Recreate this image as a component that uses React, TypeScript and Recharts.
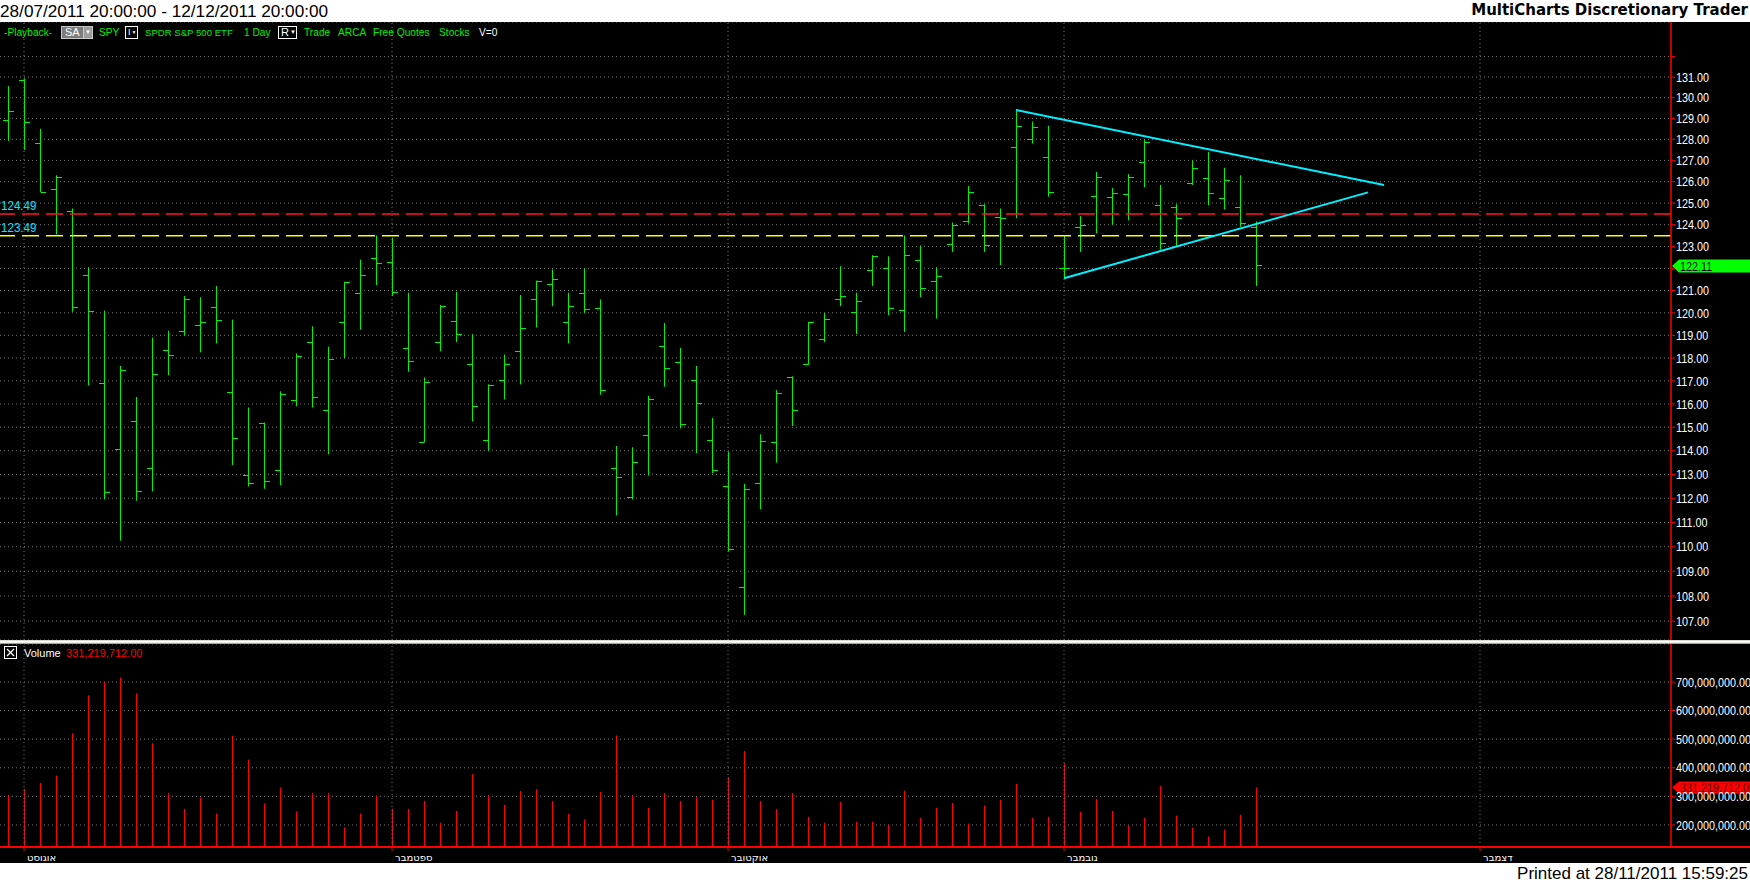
import React from 'react';
import { ComposedChart, Bar, Line, XAxis, YAxis, CartesianGrid, ReferenceLine } from 'recharts';

// ---------- data ----------
const tradingDates = [
  '29/07/2011',
  '01/08/2011', '02/08/2011', '03/08/2011', '04/08/2011', '05/08/2011', '08/08/2011', '09/08/2011', '10/08/2011',
  '11/08/2011', '12/08/2011', '15/08/2011', '16/08/2011', '17/08/2011', '18/08/2011', '19/08/2011', '22/08/2011',
  '23/08/2011', '24/08/2011', '25/08/2011', '26/08/2011', '29/08/2011', '30/08/2011', '31/08/2011',
  '01/09/2011', '02/09/2011', '06/09/2011', '07/09/2011', '08/09/2011', '09/09/2011', '12/09/2011', '13/09/2011',
  '14/09/2011', '15/09/2011', '16/09/2011', '19/09/2011', '20/09/2011', '21/09/2011', '22/09/2011', '23/09/2011',
  '26/09/2011', '27/09/2011', '28/09/2011', '29/09/2011', '30/09/2011',
  '03/10/2011', '04/10/2011', '05/10/2011', '06/10/2011', '07/10/2011', '10/10/2011', '11/10/2011', '12/10/2011',
  '13/10/2011', '14/10/2011', '17/10/2011', '18/10/2011', '19/10/2011', '20/10/2011', '21/10/2011', '24/10/2011',
  '25/10/2011', '26/10/2011', '27/10/2011', '28/10/2011', '31/10/2011',
  '01/11/2011', '02/11/2011', '03/11/2011', '04/11/2011', '07/11/2011', '08/11/2011', '09/11/2011', '10/11/2011',
  '11/11/2011', '14/11/2011', '15/11/2011', '16/11/2011', '17/11/2011',
];
const futureDates = [
  '18/11/2011', '19/11/2011', '20/11/2011', '21/11/2011', '22/11/2011', '23/11/2011', '24/11/2011', '25/11/2011',
  '26/11/2011', '27/11/2011', '28/11/2011', '29/11/2011', '30/11/2011', '01/12/2011', '02/12/2011', '03/12/2011',
  '04/12/2011', '05/12/2011', '06/12/2011', '07/12/2011', '08/12/2011', '09/12/2011', '10/12/2011', '11/12/2011',
  '12/12/2011',
];

const opens = [
  128.9, 130.84, 127.8, 125.65, 124.6, 121.7, 116.9, 114.05, 115.25, 113.25,
  118.35, 119.15, 119.45, 120.25, 116.5, 112.95, 115.15, 113.15, 116.15, 118.7,
  115.7, 119.55, 120.85, 122.45, 122.25, 118.4, 114.35, 118.7, 119.6, 117.7,
  114.45, 117.0, 118.3, 120.6, 121.25, 119.55, 120.85, 120.2, 113.25, 112.05,
  114.65, 118.5, 117.8, 117.0, 114.45, 112.5, 108.35, 112.6, 114.35, 117.15,
  117.7, 118.8, 120.6, 120.0, 121.9, 122.0, 120.1, 122.35, 121.4, 123.1,
  124.15, 124.9, 124.35, 127.6, 128.0, 127.15, 122.0, 123.85, 125.3, 125.25,
  125.4, 126.9, 124.9, 124.8, 125.9, 126.15, 125.2, 124.8, 123.85,
];
const highs = [
  130.56, 130.94, 128.5, 126.3, 124.75, 122.05, 120.1, 117.65, 116.3, 118.9,
  119.2, 120.75, 120.7, 121.2, 119.7, 115.85, 115.2, 116.55, 118.2, 119.4,
  118.5, 121.4, 122.4, 123.5, 123.4, 120.9, 117.15, 120.35, 120.95, 119.05,
  116.85, 118.15, 120.8, 121.45, 121.95, 120.9, 122.0, 120.6, 114.2, 114.15,
  116.35, 119.55, 118.45, 117.65, 115.4, 113.95, 112.6, 114.7, 116.6, 117.2,
  119.6, 120.0, 122.1, 120.9, 122.6, 122.55, 123.5, 123.05, 122.05, 124.1,
  125.8, 124.95, 124.75, 129.4, 128.85, 128.65, 123.5, 124.4, 126.45, 125.7,
  126.35, 128.0, 125.85, 124.95, 127.0, 127.4, 126.65, 126.3, 124.15,
];
const lows = [
  127.93, 127.5, 125.5, 123.55, 120.05, 116.8, 111.96, 110.25, 111.9, 112.3,
  117.25, 119.0, 118.25, 118.65, 113.4, 112.5, 112.4, 112.55, 115.9, 115.85,
  113.85, 118.0, 119.25, 121.25, 120.75, 117.4, 114.35, 118.3, 118.7, 115.25,
  114.0, 116.2, 116.85, 119.35, 120.3, 118.65, 120.0, 116.4, 111.3, 111.95,
  112.95, 116.75, 114.95, 113.9, 113.05, 109.8, 107.25, 111.55, 113.5, 115.05,
  117.7, 118.7, 120.3, 119.05, 121.2, 119.9, 119.15, 120.7, 119.75, 122.75,
  124.05, 122.75, 122.15, 124.3, 127.8, 125.3, 121.55, 122.75, 123.6, 124.0,
  124.2, 125.75, 122.85, 123.0, 125.85, 124.9, 124.7, 123.9, 121.2,
];
const closes = [
  129.34, 128.8, 125.5, 126.2, 120.25, 120.05, 112.25, 117.45, 112.3, 117.3,
  118.1, 120.6, 119.55, 119.65, 114.5, 112.6, 112.7, 116.4, 118.05, 116.3,
  117.95, 121.35, 121.7, 122.2, 120.9, 117.85, 116.95, 120.3, 119.05, 115.9,
  116.8, 117.7, 119.3, 121.4, 121.5, 120.3, 120.15, 116.6, 112.85, 113.5,
  116.2, 117.55, 115.1, 116.0, 113.15, 109.9, 112.35, 114.4, 116.45, 115.7,
  119.55, 119.7, 120.75, 120.5, 122.55, 120.2, 122.6, 121.1, 121.65, 123.95,
  125.5, 123.05, 124.3, 128.6, 128.55, 125.5, 122.0, 123.95, 126.2, 125.45,
  126.2, 127.85, 123.15, 124.3, 126.6, 125.45, 126.05, 124.05, 122.11,
];
// volume in millions of shares
const volumesM = [
  305.6, 326.5, 347.3, 372.9, 521.3, 653.6, 702.3, 716.2, 660.6, 486.5,
  312.5, 256.8, 296.3, 240.6, 512.1, 428.5, 275.4, 331.1, 247.6, 312.5,
  312.5, 191.9, 240.6, 303.2, 256.8, 256.8, 284.7, 208.1, 249.7, 378.0,
  305.2, 270.5, 319.1, 326.0, 284.4, 239.3, 219.7, 315.6, 513.3, 305.2,
  260.1, 312.1, 284.4, 298.3, 289.0, 367.6, 459.0, 284.4, 256.6, 312.1,
  228.9, 208.1, 280.9, 211.6, 211.6, 201.2, 320.2, 225.4, 260.1, 277.5,
  204.6, 268.2, 289.0, 343.4, 225.4, 228.9, 416.2, 246.2, 291.3, 249.7,
  197.7, 225.4, 336.4, 232.4, 190.8, 159.5, 183.8, 235.8, 331.219712,
];

const priceTicks = [107, 108, 109, 110, 111, 112, 113, 114, 115, 116, 117, 118, 119, 120, 121, 122, 123, 124, 125, 126, 127, 128, 129, 130, 131, 132];
const priceLabelTicks = [107, 108, 109, 110, 111, 112, 113, 114, 115, 116, 117, 118, 119, 120, 121, 122, 123, 124, 125, 126, 127, 128, 129, 130, 131];
const priceMinorTicks = [106.5, 107.5, 108.5, 109.5, 110.5, 111.5, 112.5, 113.5, 114.5, 115.5, 116.5, 117.5, 118.5, 119.5, 120.5, 121.5, 122.5, 123.5, 124.5, 125.5, 126.5, 127.5, 128.5, 129.5, 130.5, 131.5];
const volumeTicks = [200e6, 300e6, 400e6, 500e6, 600e6, 700e6];
const volumeMinorTicks = [150e6, 250e6, 350e6, 450e6, 550e6, 650e6, 750e6];
const monthTicks = ['01/08/2011', '01/09/2011', '03/10/2011', '01/11/2011', '01/12/2011'];
const monthLabels = ['אוגוסט', 'ספטמבר', 'אוקטובר', 'נובמבר', 'דצמבר'];

const levelValues = [124.49, 123.49];
const levelColors = ['#ff1a1a', '#ffff00'];
const upperTrend = [{ date: '27/10/2011', price: 129.4 }, { date: '25/11/2011', price: 125.84 }];
const lowerTrend = [{ date: '01/11/2011', price: 121.55 }, { date: '24/11/2011', price: 125.5 }];
const lastPrice = 122.11;
const lastVolume = 331219712;

const priceDomain = [106.25, 133.71];
const volumeDomain = [123e6, 833e6];

// ---------- build rows ----------
const allDates = [...tradingDates, ...futureDates];
const rows = allDates.map((d, i) => {
  const has = i < opens.length;
  return {
    date: d,
    range: has ? [lows[i], highs[i]] : null,
    open: has ? opens[i] : null,
    close: has ? closes[i] : null,
    volume: has ? volumesM[i] * 1e6 : null,
  };
});

// ---------- style ----------
const GREEN = '#00f400';
const RED = '#ff0000';
const CYAN = '#00e8ff';
const GRID = '#7a7a7a';
const FONT = "'Liberation Sans', Arial, sans-serif";
const SX = 0.83; // horizontal squeeze for the narrow axis font

const fmtMoney = (v: number) =>
  v.toLocaleString('en-US', { minimumFractionDigits: 2, maximumFractionDigits: 2 });

// ---------- shapes ----------
const HLShape = (props: any) => {
  const { x, y, width, height } = props;
  if (x == null || y == null || height == null || isNaN(height) || isNaN(y)) return <g />;
  const cx = Math.round(x + width / 2 - 0.5);
  return <rect x={cx} y={y} width={1} height={Math.max(height, 1)} fill={GREEN} />;
};

const VolShape = (props: any) => {
  const { x, y, width, height } = props;
  if (x == null || y == null || height == null || isNaN(height) || isNaN(y)) return <g />;
  const cx = Math.round(x + width / 2 - 0.5);
  return <rect x={cx} y={y} width={1} height={Math.max(height, 1)} fill={RED} />;
};

const renderOpen = (props: any) => {
  const { cx, cy, index } = props;
  if (cx == null || cy == null || isNaN(cy)) return <g key={`o${index}`} />;
  const xr = Math.round(cx - 0.5);
  return <rect key={`o${index}`} x={xr - 5} y={Math.round(cy - 0.5)} width={5} height={1} fill={GREEN} />;
};
const renderClose = (props: any) => {
  const { cx, cy, index } = props;
  if (cx == null || cy == null || isNaN(cy)) return <g key={`c${index}`} />;
  const xr = Math.round(cx - 0.5);
  return <rect key={`c${index}`} x={xr + 1} y={Math.round(cy - 0.5)} width={5} height={1} fill={GREEN} />;
};

const NarrowText = ({ x, y, children, fill, size = 13 }: any) => (
  <text transform={`translate(${x},${y}) scale(${SX},1)`} dy="0.36em" fill={fill} fontSize={size} fontFamily={FONT}>
    {children}
  </text>
);

const LevelLabel = (text: string) => (props: any) => {
  const vb = props.viewBox || {};
  return (
    <text transform={`translate(1,${vb.y - 4}) scale(0.86,1)`} fill={CYAN} fontSize={13.5} fontFamily={FONT}>
      {text}
    </text>
  );
};

const PriceTag = (props: any) => {
  const vb = props.viewBox || {};
  const x0 = vb.x + vb.width;
  const y = vb.y;
  return (
    <g>
      <polygon
        points={`${x0 + 1},${y} ${x0 + 8},${y - 6.5} ${x0 + 80},${y - 6.5} ${x0 + 80},${y + 6.5} ${x0 + 8},${y + 6.5}`}
        fill="#00ff00"
      />
      <NarrowText x={x0 + 9} y={y} fill="#000">{lastPrice.toFixed(2)}</NarrowText>
    </g>
  );
};

const VolumeTag = (props: any) => {
  const vb = props.viewBox || {};
  const x0 = vb.x + vb.width;
  const y = vb.y;
  return (
    <g>
      <polygon
        points={`${x0 + 1},${y} ${x0 + 8},${y - 6} ${x0 + 80},${y - 6} ${x0 + 80},${y + 6} ${x0 + 8},${y + 6}`}
        fill={RED}
      />
      <NarrowText x={x0 + 9} y={y} fill="#5a0000">{fmtMoney(lastVolume)}</NarrowText>
    </g>
  );
};

const PriceTick = (props: any) => {
  const { x, y, payload } = props;
  const v = payload.value;
  const show = priceLabelTicks.includes(v) && Math.abs(v - lastPrice) > 0.5;
  if (!show) return <g />;
  return <NarrowText x={x} y={y} fill="#ffffff">{v.toFixed(2)}</NarrowText>;
};

const VolumeTick = (props: any) => {
  const { x, y, payload } = props;
  return <NarrowText x={x} y={y} fill="#ffffff">{fmtMoney(payload.value)}</NarrowText>;
};

const MonthTick = (props: any) => {
  const { x, y, payload } = props;
  const idx = monthTicks.indexOf(payload.value);
  return (
    <text x={x + 3} y={y + 8} fill="#ffffff" fontSize={10} fontFamily="'DejaVu Sans', sans-serif" textAnchor="start">
      {idx >= 0 ? monthLabels[idx] : ''}
    </text>
  );
};

// ---------- toolbar ----------
const Box = ({ left, w, children, bg, border }: any) => (
  <div
    style={{
      position: 'absolute', left, top: 26, width: w, height: 13, boxSizing: 'border-box',
      border: `1px solid ${border}`, background: bg, color: '#fff', fontSize: 10, lineHeight: '11px',
      fontFamily: FONT, display: 'flex', alignItems: 'center', overflow: 'hidden',
    }}
  >
    {children}
  </div>
);

export default function App() {
  const tb = (text: string, left: number, color = '#00ee00', size = 10.2) => (
    <span style={{ position: 'absolute', left, top: 26, fontSize: size, lineHeight: '14px', fontFamily: FONT, color, whiteSpace: 'nowrap' }}>
      {text}
    </span>
  );
  return (
    <div style={{ position: 'absolute', left: 0, top: 0, width: 1750, height: 884, background: '#000', overflow: 'hidden' }}>
      {/* top band */}
      <div style={{ position: 'absolute', left: 0, top: 0, width: 1750, height: 22, background: '#fff' }}>
        <span style={{ position: 'absolute', left: 0, top: 1, fontSize: 17.2, lineHeight: '20px', fontFamily: FONT, color: '#000', whiteSpace: 'nowrap' }}>
          28/07/2011 20:00:00 - 12/12/2011 20:00:00
        </span>
        <span style={{ position: 'absolute', right: 2, top: 1, fontSize: 15, fontWeight: 'bold', fontFamily: "'DejaVu Sans', sans-serif", color: '#000', whiteSpace: 'nowrap' }}>
          MultiCharts Discretionary Trader
        </span>
      </div>

      {/* price pane */}
      <div style={{ position: 'absolute', left: 0, top: 22 }}>
        <ComposedChart width={1750} height={618} data={rows} margin={{ top: 0, right: 0, bottom: 0, left: 0 }}>
          <XAxis dataKey="date" hide padding={{ left: 0, right: 7 }} />
          <YAxis
            yAxisId="pm" orientation="right" width={0} scale="log" domain={priceDomain} allowDataOverflow
            ticks={priceMinorTicks} interval={0} tick={false} tickSize={2} tickLine={{ stroke: RED }} axisLine={false}
          />
          <YAxis
            yAxisId="p" orientation="right" width={79} scale="log" domain={priceDomain} allowDataOverflow
            ticks={priceTicks} interval={0} tickSize={4} tickMargin={1} tick={PriceTick}
            tickLine={{ stroke: RED }} axisLine={{ stroke: RED, strokeWidth: 1.5 }}
          />
          <CartesianGrid yAxisId="p" vertical={false} stroke={GRID} strokeDasharray="1 3" />
          {monthTicks.map((m) => (
            <ReferenceLine key={m} yAxisId="p" x={m} stroke={GRID} strokeDasharray="1 3" />
          ))}
          {levelValues.map((v, i) => (
            <ReferenceLine
              key={`lv${i}`} yAxisId="p" y={v} stroke={levelColors[i]} strokeWidth={1.5} strokeDasharray="17 7"
              label={LevelLabel(v.toFixed(2))}
            />
          ))}
          <Bar yAxisId="p" dataKey="range" barSize={1} shape={HLShape} isAnimationActive={false} />
          <Line yAxisId="p" dataKey="open" stroke="none" dot={renderOpen} activeDot={false} isAnimationActive={false} />
          <Line yAxisId="p" dataKey="close" stroke="none" dot={renderClose} activeDot={false} isAnimationActive={false} />
          <ReferenceLine
            yAxisId="p" stroke="#00f0ff" strokeWidth={2}
            segment={[{ x: upperTrend[0].date, y: upperTrend[0].price }, { x: upperTrend[1].date, y: upperTrend[1].price }]}
          />
          <ReferenceLine
            yAxisId="p" stroke="#00f0ff" strokeWidth={2}
            segment={[{ x: lowerTrend[0].date, y: lowerTrend[0].price }, { x: lowerTrend[1].date, y: lowerTrend[1].price }]}
          />
          <ReferenceLine yAxisId="p" y={lastPrice} stroke="none" label={PriceTag} />
        </ComposedChart>
      </div>

      {/* toolbar */}
      {tb('-Playback-', 4)}
      <Box left={61} w={32} bg="#7c7c7c" border="#c8c8c8">
        <span style={{ paddingLeft: 3, width: 20, fontSize: 11 }}>SA</span>
        <span style={{ background: '#9c9c9c', height: '100%', width: 9, fontSize: 6, lineHeight: '11px', textAlign: 'center', borderLeft: '1px solid #c8c8c8' }}>▼</span>
      </Box>
      {tb('SPY', 99)}
      <Box left={125} w={13} bg="#000" border="#ffffff">
        <span style={{ paddingLeft: 2, fontSize: 9 }}>I</span>
        <span style={{ fontSize: 5, paddingLeft: 1 }}>▼</span>
      </Box>
      {tb('SPDR S&P 500 ETF', 145, '#00ee00', 9.6)}
      {tb('1 Day', 244)}
      <Box left={278} w={19} bg="#000" border="#ffffff">
        <span style={{ paddingLeft: 2, fontSize: 11 }}>R</span>
        <span style={{ fontSize: 6, paddingLeft: 1 }}>▼</span>
      </Box>
      {tb('Trade', 304)}
      {tb('ARCA', 338)}
      {tb('Free Quotes', 373)}
      {tb('Stocks', 439)}
      {tb('V=0', 479, '#ffffff')}

      {/* separator */}
      <div style={{ position: 'absolute', left: 0, top: 640, width: 1750, height: 4, background: 'linear-gradient(#c8c8c0, #ffffff 40%, #e8e8e0 70%, #707070)' }} />

      {/* volume pane */}
      <div style={{ position: 'absolute', left: 0, top: 644 }}>
        <ComposedChart width={1750} height={219} data={rows} margin={{ top: 0, right: 0, bottom: 0, left: 0 }}>
          <XAxis
            dataKey="date" padding={{ left: 0, right: 7 }} ticks={monthTicks} interval={0} height={16}
            axisLine={false} tickLine={{ stroke: RED }} tickSize={4} tick={MonthTick}
          />
          <YAxis
            yAxisId="vm" orientation="right" width={0} domain={volumeDomain} allowDataOverflow
            ticks={volumeMinorTicks} interval={0} tick={false} tickSize={2} tickLine={{ stroke: RED }} axisLine={false}
          />
          <YAxis
            yAxisId="v" orientation="right" width={79} domain={volumeDomain} allowDataOverflow
            ticks={volumeTicks} interval={0} tickSize={4} tickMargin={1} tick={VolumeTick}
            tickLine={{ stroke: RED }} axisLine={{ stroke: RED, strokeWidth: 1.5 }}
          />
          <CartesianGrid yAxisId="v" vertical={false} stroke={GRID} strokeDasharray="1 3" />
          {monthTicks.map((m) => (
            <ReferenceLine key={m} yAxisId="v" x={m} stroke={GRID} strokeDasharray="1 3" />
          ))}
          <Bar yAxisId="v" dataKey="volume" barSize={1} shape={VolShape} isAnimationActive={false} />
          <ReferenceLine yAxisId="v" y={lastVolume} stroke="none" label={VolumeTag} />
        </ComposedChart>
      </div>

      {/* volume header */}
      <svg style={{ position: 'absolute', left: 4, top: 646 }} width={14} height={14}>
        <rect x={0.5} y={0.5} width={12} height={12} fill="none" stroke="#fff" />
        <line x1={3} y1={3} x2={10} y2={10} stroke="#fff" strokeWidth={1.3} />
        <line x1={10} y1={3} x2={3} y2={10} stroke="#fff" strokeWidth={1.3} />
      </svg>
      <span style={{ position: 'absolute', left: 24, top: 646, fontSize: 11, lineHeight: '14px', fontFamily: FONT, color: '#fff' }}>Volume</span>
      <span style={{ position: 'absolute', left: 66, top: 646, fontSize: 11, lineHeight: '14px', fontFamily: FONT, color: RED }}>
        {fmtMoney(lastVolume)}
      </span>

      {/* x axis line */}
      <div style={{ position: 'absolute', left: 0, top: 846, width: 1750, height: 2, background: RED }} />

      {/* bottom band */}
      <div style={{ position: 'absolute', left: 0, top: 863, width: 1750, height: 21, background: '#fff' }}>
        <span style={{ position: 'absolute', right: 2, top: 1, fontSize: 17, fontFamily: FONT, color: '#000', whiteSpace: 'nowrap' }}>
          Printed at 28/11/2011 15:59:25
        </span>
      </div>
    </div>
  );
}
